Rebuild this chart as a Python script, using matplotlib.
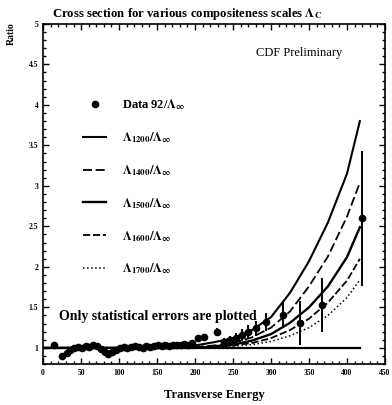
import numpy as np
import matplotlib.pyplot as plt
from matplotlib.ticker import MultipleLocator, FuncFormatter

plt.rcParams['font.family'] = ['Liberation Serif', 'DejaVu Serif']
plt.rcParams['mathtext.fontset'] = 'stix'
plt.rcParams['mathtext.default'] = 'bf'

# data points (ratio data / theory)
data_x = [14, 25, 31, 36, 41, 46, 51, 56, 61, 66, 71, 76, 81, 86, 91, 96, 101, 106,
          111, 116, 121, 126, 131, 136, 141, 146, 151, 156, 161, 166, 171, 176, 181,
          186, 191, 196, 204, 212, 229, 238, 246, 254, 262, 270, 280, 294, 316, 338,
          367, 420]
data_y = [1.04, 0.90, 0.94, 0.98, 1.00, 1.01, 1.00, 1.02, 1.01, 1.03, 1.02, 0.99,
          0.95, 0.92, 0.95, 0.98, 1.00, 1.01, 1.00, 1.01, 1.02, 1.01, 1.00, 1.02,
          1.01, 1.02, 1.03, 1.02, 1.03, 1.02, 1.04, 1.03, 1.04, 1.05, 1.04, 1.06,
          1.12, 1.13, 1.20, 1.07, 1.10, 1.12, 1.16, 1.20, 1.24, 1.32, 1.41, 1.31,
          1.53, 2.60]
data_err = [0.02] * 36 + [0.04, 0.04, 0.05, 0.05, 0.05, 0.06, 0.07, 0.08, 0.09,
                          0.11, 0.16, 0.27, 0.33, 0.83]

# compositeness curves
curve_x = [0, 100, 150, 200, 225, 250, 275, 300, 325, 350, 375, 400, 417]
L1200 = [1, 1, 1.0, 1.03, 1.07, 1.12, 1.22, 1.38, 1.68, 2.07, 2.55, 3.15, 3.80]
L1400 = [1, 1, 1.0, 1.01, 1.03, 1.06, 1.13, 1.25, 1.45, 1.76, 2.13, 2.62, 3.04]
L1500 = [1, 1, 1.0, 1.00, 1.02, 1.04, 1.09, 1.17, 1.31, 1.50, 1.76, 2.12, 2.49]
L1600 = [1, 1, 1.0, 1.00, 1.01, 1.03, 1.06, 1.12, 1.22, 1.36, 1.56, 1.83, 2.10]
L1700 = [1, 1, 1.0, 1.00, 1.00, 1.02, 1.04, 1.08, 1.15, 1.25, 1.40, 1.62, 1.84]
Linf = [1] * len(curve_x)

fig = plt.figure(figsize=(3.92, 4.05), dpi=100)
ax = fig.add_axes([0.110, 0.101, 0.872, 0.840])

ax.plot(curve_x, Linf, color='k', lw=1.6)
ax.errorbar(data_x, data_y, yerr=data_err, fmt='none', ecolor='k', elinewidth=1.4, capsize=0)
ax.plot(data_x, data_y, 'o', color='k', ms=4.5, label=r'Data 92/$\Lambda_\infty$')
ax.plot(curve_x, L1200, color='k', lw=1.5, ls='-', label=r'$\Lambda_{1200}/\Lambda_\infty$')
ax.plot(curve_x, L1400, color='k', lw=1.3, ls=(0, (5, 2)), label=r'$\Lambda_{1400}/\Lambda_\infty$')
ax.plot(curve_x, L1500, color='k', lw=1.7, ls='-', label=r'$\Lambda_{1500}/\Lambda_\infty$')
ax.plot(curve_x, L1600, color='k', lw=1.3, ls=(0, (4, 1.5)), label=r'$\Lambda_{1600}/\Lambda_\infty$')
ax.plot(curve_x, L1700, color='k', lw=1.1, ls=':', label=r'$\Lambda_{1700}/\Lambda_\infty$')

ax.set_xlim(0, 450)
ax.set_ylim(0.8, 5)
ax.xaxis.set_major_locator(MultipleLocator(50))
ax.xaxis.set_minor_locator(MultipleLocator(10))
ax.yaxis.set_major_locator(MultipleLocator(0.5))
ax.yaxis.set_minor_locator(MultipleLocator(0.1))
ax.yaxis.set_major_formatter(FuncFormatter(lambda v, p: '%g' % v))
ax.tick_params(which='both', direction='in', top=True, right=True, width=1)
ax.tick_params(which='major', length=4, labelsize=5.5)
ax.tick_params(which='minor', length=2)
for lab in ax.get_xticklabels() + ax.get_yticklabels():
    lab.set_fontweight('bold')
for s in ax.spines.values():
    s.set_linewidth(1.2)

leg = ax.legend(loc='upper left', bbox_to_anchor=(0.117, 0.785), frameon=False,
                handlelength=1.85, handletextpad=1.3, labelspacing=1.45,
                borderaxespad=0, borderpad=0, prop={'weight': 'bold', 'size': 9})

ax.text(337, 4.64, 'CDF Preliminary', fontsize=9, ha='center', va='center')
ax.text(21, 1.39, 'Only statistical errors are plotted', fontsize=10,
        fontweight='bold', ha='left', va='center')

fig.text(0.477, 0.985, r'Cross section for various compositeness scales $\Lambda_C$',
         ha='center', va='top', fontsize=9.2, fontweight='bold')
fig.text(0.018, 0.945, 'Ratio', rotation=90, ha='left', va='top', fontsize=7, fontweight='bold')
fig.text(0.548, 0.025, 'Transverse Energy', ha='center', va='center', fontsize=9,
         fontweight='bold')

fig.savefig('out.png', dpi=100)
